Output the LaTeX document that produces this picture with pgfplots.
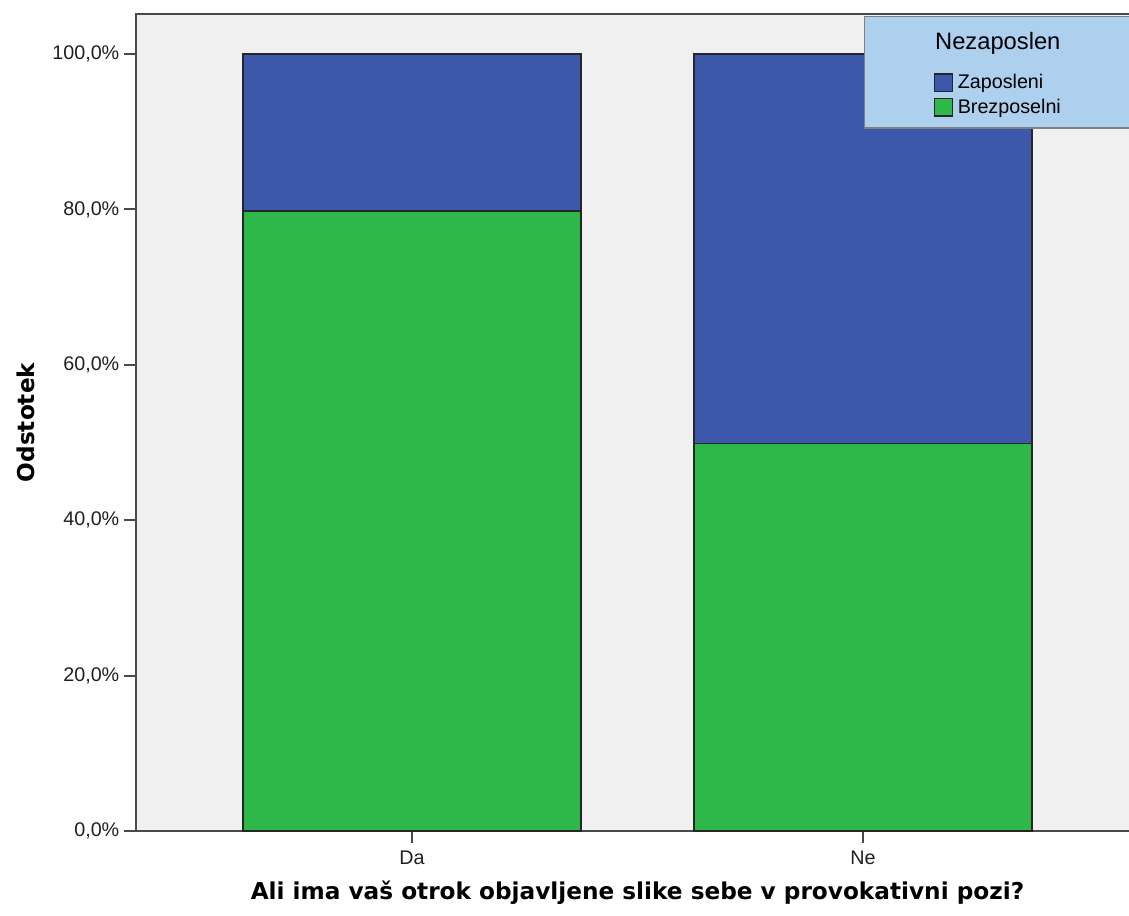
\documentclass[border=0pt]{standalone}
\usepackage{pgfplots}
\pgfplotsset{compat=1.18}
\usepackage{fontspec}
\setmainfont{Liberation Sans}
\newfontfamily\labfont{DejaVu Sans}
\definecolor{bgc}{HTML}{F0F0F0}
\definecolor{zblue}{HTML}{3C58AA}
\definecolor{bgreen}{HTML}{2FB84A}
\definecolor{legfill}{HTML}{ADD0EE}
\definecolor{axc}{HTML}{4A4A4A}
\begin{document}
\begin{tikzpicture}
\begin{axis}[
  at={(0,0)}, anchor=south west,
  scale only axis, width=752.25pt, height=612.75pt,
  xmin=-0.612, xmax=1.612, ymin=0, ymax=105.15,
  axis background/.style={fill=bgc},
  axis line style={axc, line width=1.5pt},
  ybar stacked, bar width=253.5pt,
  xtick={0,1}, xticklabels={Da,Ne},
  ytick={0,20,40,60,80,100},
  yticklabels={{0,0\%},{20,0\%},{40,0\%},{60,0\%},{80,0\%},{100,0\%}},
  tick align=outside, major tick length=9pt,
  xtick pos=left, ytick pos=left,
  tick style={axc, line width=1.5pt},
  ticklabel style={font=\fontsize{14.8pt}{17pt}\selectfont, text=black!88},
  xticklabel style={yshift=-2.2pt},
  xlabel={Ali ima vaš otrok objavljene slike sebe v provokativni pozi?},
  ylabel={Odstotek},
  label style={font=\labfont\bfseries\fontsize{17.4pt}{20pt}\selectfont},
  xlabel style={at={(rel axis cs:0.5,0)}, yshift=-46.5pt, anchor=center},
  ylabel style={at={(rel axis cs:0,0.5)}, yshift=82.5pt, anchor=center},
  legend cell align=left,
  legend image code/.code={\draw[#1, line width=1.1pt] (0pt,-6.6pt) rectangle (13.5pt,6.6pt);},
  legend style={at={(rel axis cs:0.7258,0.99755)}, anchor=north west,
    fill=legfill, draw=gray, line width=1pt,
    inner xsep=51.75pt, inner ysep=8.5pt,
    font=\fontsize{14.8pt}{17pt}\selectfont,
    nodes={inner sep=0pt, text height=11pt, text depth=2pt},
    row sep=4.2pt, column sep=3.5pt},
]
\addplot[fill=bgreen, draw=black!85, line width=1.1pt, forget plot] coordinates {(0,79.8) (1,49.9)};
\addplot[fill=zblue, draw=black!85, line width=1.1pt, forget plot] coordinates {(0,20.2) (1,50.1)};
\addlegendimage{empty legend}
\addlegendentry[text height=16.3pt, text depth=13.3pt, font=\fontsize{17.8pt}{20pt}\selectfont]{\hspace*{-17pt}Nezaposlen}
\addlegendimage{fill=zblue, draw=black!85}
\addlegendentry{Zaposleni}
\addlegendimage{fill=bgreen, draw=black!85}
\addlegendentry{Brezposelni}
\end{axis}
\pgfresetboundingbox
\path[use as bounding box] (-102pt,-63pt) rectangle (744.75pt,623.25pt);
\end{tikzpicture}
\end{document}
